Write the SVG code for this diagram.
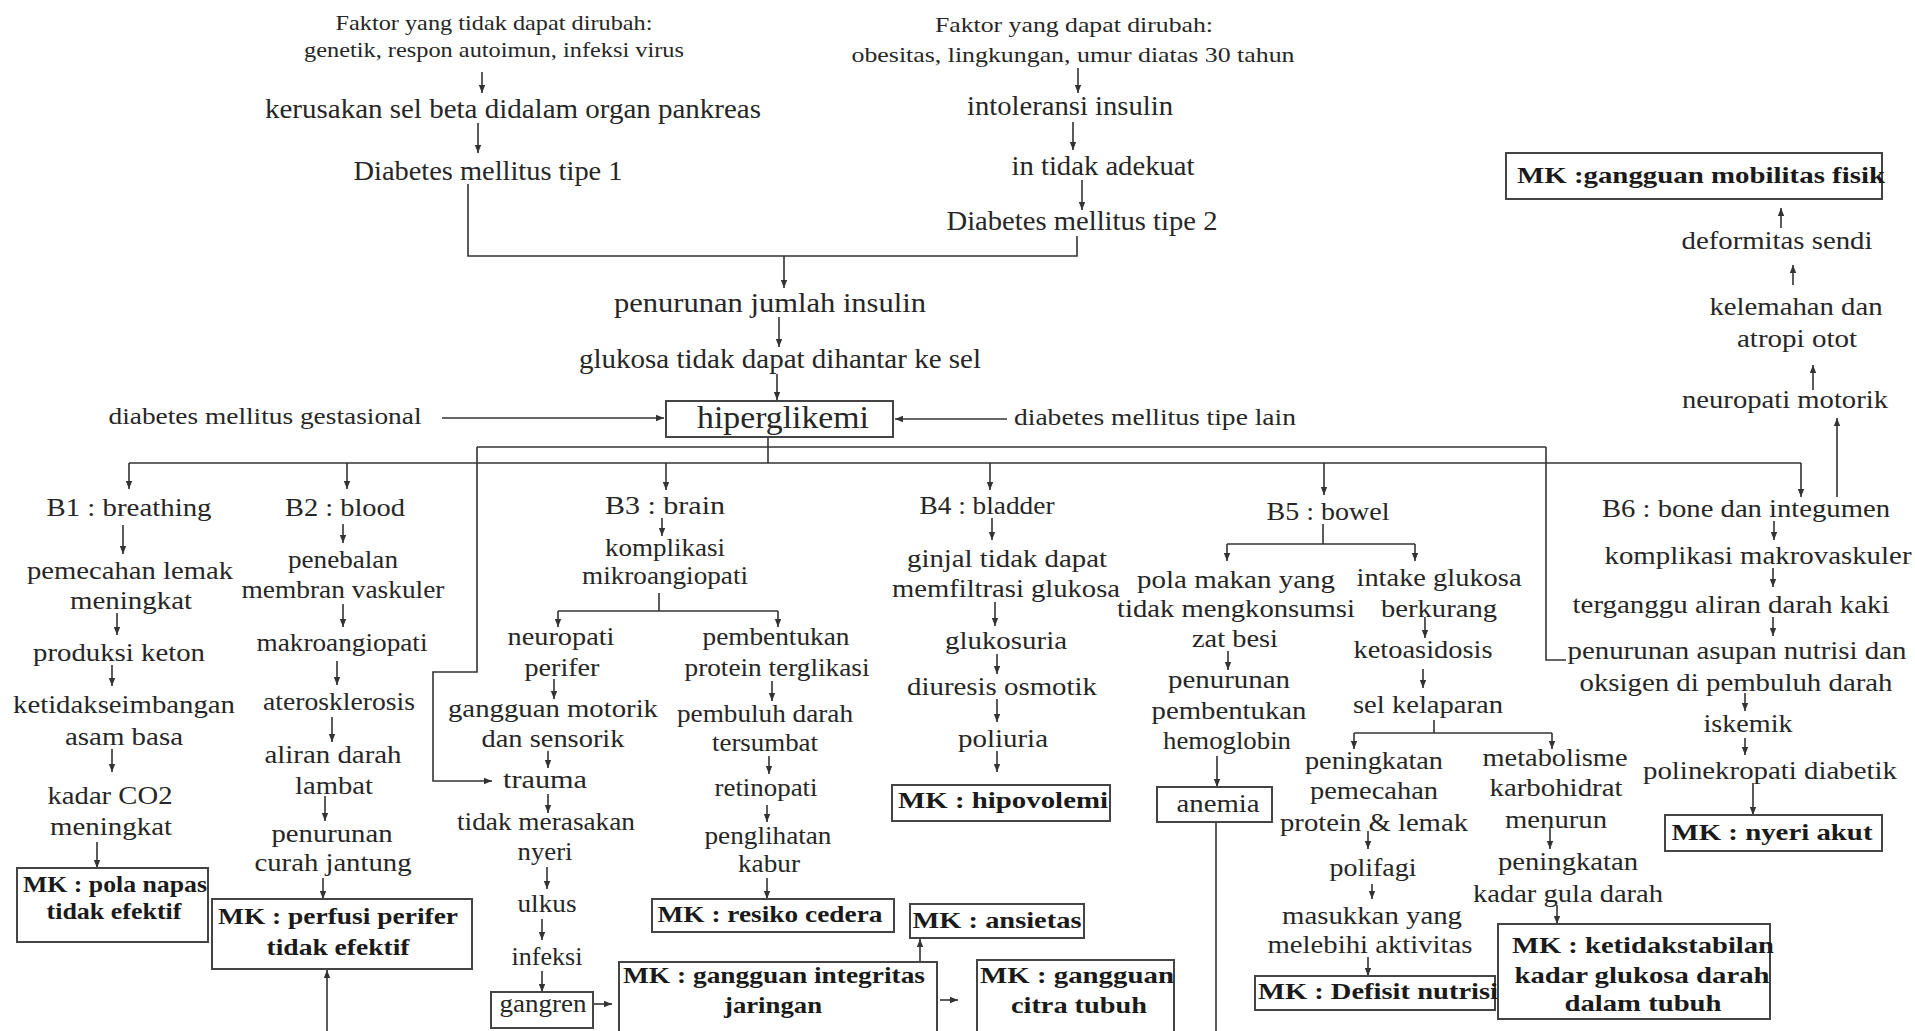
<svg xmlns="http://www.w3.org/2000/svg" width="1915" height="1031" viewBox="0 0 1915 1031">
<style>
text{font-family:"Liberation Serif","Times New Roman",serif;fill:#262626;text-anchor:middle}
.sm{font-size:22px}
.tp{font-size:27px}
.md{font-size:23px}
.hg{font-size:31px}
.n{font-size:25px}
.mk{font-size:23px;font-weight:bold;fill:#1a1a1a}
.box{fill:none;stroke:#444;stroke-width:2}
.ln{fill:none;stroke:#333;stroke-width:1.6}
.ar{fill:none;stroke:#333;stroke-width:1.6;marker-end:url(#ah)}
</style>
<defs>
<marker id="ah" viewBox="0 0 10 10" refX="10" refY="5" markerWidth="8" markerHeight="8" markerUnits="userSpaceOnUse" orient="auto">
<path d="M0,1 L10,5 L0,9 Z" fill="#333"/>
</marker>
</defs>
<rect width="1915" height="1031" fill="#fff"/>

<g id="connectors">
<line class="ar" x1="482" y1="72" x2="482" y2="93"/>
<line class="ar" x1="478" y1="123" x2="478" y2="153"/>
<line class="ar" x1="1078" y1="68" x2="1078" y2="93"/>
<line class="ar" x1="1073" y1="122" x2="1073" y2="150"/>
<line class="ar" x1="1082" y1="180" x2="1082" y2="210"/>
<polyline class="ln" points="468,184 468,256 1077,256 1077,236"/>
<line class="ar" x1="784" y1="256" x2="784" y2="288"/>
<line class="ar" x1="779" y1="317" x2="779" y2="347"/>
<line class="ar" x1="777" y1="374" x2="777" y2="400"/>
<line class="ar" x1="442" y1="418" x2="664" y2="418"/>
<line class="ar" x1="1007" y1="419" x2="895" y2="419"/>
<line class="ln" x1="768" y1="437" x2="768" y2="463"/>
<line class="ln" x1="477" y1="447" x2="1546" y2="447"/>
<polyline class="ar" points="477,447 477,672 433,672 433,781 492,781"/>
<polyline class="ln" points="1546,447 1546,660 1566,660"/>
<line class="ln" x1="129" y1="463" x2="1801" y2="463"/>
<line class="ar" x1="129" y1="463" x2="129" y2="489"/>
<line class="ar" x1="347" y1="463" x2="347" y2="489"/>
<line class="ar" x1="666" y1="463" x2="666" y2="490"/>
<line class="ar" x1="990" y1="463" x2="990" y2="490"/>
<line class="ar" x1="1324" y1="463" x2="1324" y2="495"/>
<line class="ar" x1="1801" y1="463" x2="1801" y2="497"/>
<line class="ar" x1="1837" y1="497" x2="1837" y2="418"/>
<line class="ar" x1="1813" y1="390" x2="1813" y2="365"/>
<line class="ar" x1="1793" y1="285" x2="1793" y2="265"/>
<line class="ar" x1="1781" y1="228" x2="1781" y2="208"/>
<!-- B1 -->
<line class="ar" x1="123" y1="525" x2="123" y2="554"/>
<line class="ar" x1="117" y1="613" x2="117" y2="635"/>
<line class="ar" x1="112" y1="665" x2="112" y2="686"/>
<line class="ar" x1="112" y1="749" x2="112" y2="772"/>
<line class="ar" x1="97" y1="842" x2="97" y2="868"/>
<!-- B2 -->
<line class="ar" x1="343" y1="524" x2="343" y2="543"/>
<line class="ar" x1="343" y1="604" x2="343" y2="627"/>
<line class="ar" x1="337" y1="661" x2="337" y2="685"/>
<line class="ar" x1="332" y1="717" x2="332" y2="742"/>
<line class="ar" x1="325" y1="796" x2="325" y2="821"/>
<line class="ar" x1="323" y1="878" x2="323" y2="899"/>
<line class="ar" x1="327" y1="1031" x2="327" y2="970"/>
<!-- B3 -->
<line class="ar" x1="662" y1="518" x2="662" y2="536"/>
<line class="ln" x1="659" y1="593" x2="659" y2="611"/>
<line class="ln" x1="558" y1="611" x2="778" y2="611"/>
<line class="ar" x1="558" y1="611" x2="558" y2="627"/>
<line class="ar" x1="778" y1="611" x2="778" y2="627"/>
<line class="ar" x1="554" y1="679" x2="554" y2="699"/>
<line class="ar" x1="548" y1="751" x2="548" y2="768"/>
<line class="ar" x1="548" y1="794" x2="548" y2="813"/>
<line class="ar" x1="547" y1="867" x2="547" y2="889"/>
<line class="ar" x1="542" y1="919" x2="542" y2="940"/>
<line class="ar" x1="542" y1="971" x2="542" y2="992"/>
<line class="ar" x1="593" y1="1004" x2="612" y2="1004"/>
<line class="ar" x1="772" y1="681" x2="772" y2="701"/>
<line class="ar" x1="769" y1="756" x2="769" y2="774"/>
<line class="ar" x1="767" y1="805" x2="767" y2="822"/>
<line class="ar" x1="767" y1="878" x2="767" y2="899"/>
<line class="ar" x1="920" y1="962" x2="920" y2="939"/>
<line class="ar" x1="940" y1="1000" x2="958" y2="1000"/>
<!-- B4 -->
<line class="ar" x1="992" y1="518" x2="992" y2="540"/>
<line class="ar" x1="995" y1="602" x2="995" y2="626"/>
<line class="ar" x1="997" y1="654" x2="997" y2="674"/>
<line class="ar" x1="997" y1="699" x2="997" y2="722"/>
<line class="ar" x1="997" y1="751" x2="997" y2="772"/>
<!-- B5 -->
<line class="ln" x1="1323" y1="524" x2="1323" y2="544"/>
<line class="ln" x1="1227" y1="544" x2="1415" y2="544"/>
<line class="ar" x1="1227" y1="544" x2="1227" y2="561"/>
<line class="ar" x1="1415" y1="544" x2="1415" y2="561"/>
<line class="ar" x1="1228" y1="651" x2="1228" y2="670"/>
<line class="ar" x1="1217" y1="756" x2="1217" y2="787"/>
<line class="ln" x1="1216" y1="822" x2="1216" y2="1031"/>
<line class="ar" x1="1425" y1="617" x2="1425" y2="638"/>
<line class="ar" x1="1423" y1="669" x2="1423" y2="688"/>
<line class="ln" x1="1434" y1="720" x2="1434" y2="733"/>
<line class="ln" x1="1354" y1="733" x2="1552" y2="733"/>
<line class="ar" x1="1354" y1="733" x2="1354" y2="749"/>
<line class="ar" x1="1552" y1="733" x2="1552" y2="749"/>
<line class="ar" x1="1368" y1="831" x2="1368" y2="849"/>
<line class="ar" x1="1372" y1="884" x2="1372" y2="899"/>
<line class="ar" x1="1368" y1="957" x2="1368" y2="976"/>
<line class="ar" x1="1550" y1="828" x2="1550" y2="849"/>
<line class="ar" x1="1557" y1="905" x2="1557" y2="924"/>
<!-- B6 -->
<line class="ar" x1="1774" y1="521" x2="1774" y2="540"/>
<line class="ar" x1="1773" y1="568" x2="1773" y2="587"/>
<line class="ar" x1="1773" y1="617" x2="1773" y2="636"/>
<line class="ar" x1="1745" y1="693" x2="1745" y2="711"/>
<line class="ar" x1="1745" y1="738" x2="1745" y2="755"/>
<line class="ar" x1="1753" y1="783" x2="1753" y2="815"/>
</g>

<g id="faktor-tetap">
<text class="sm" x="494" y="30" textLength="317" lengthAdjust="spacingAndGlyphs">Faktor yang tidak dapat dirubah:</text>
<text class="sm" x="494" y="57" textLength="380" lengthAdjust="spacingAndGlyphs">genetik, respon autoimun, infeksi virus</text>
</g>
<g id="kerusakan-sel-beta"><text class="tp" x="513" y="118" textLength="496" lengthAdjust="spacingAndGlyphs">kerusakan sel beta didalam organ pankreas</text></g>
<g id="dm-tipe-1"><text class="tp" x="488" y="180" textLength="269" lengthAdjust="spacingAndGlyphs">Diabetes mellitus tipe 1</text></g>
<g id="faktor-ubah">
<text class="sm" x="1074" y="32" textLength="278" lengthAdjust="spacingAndGlyphs">Faktor yang dapat dirubah:</text>
<text class="sm" x="1073" y="62" textLength="443" lengthAdjust="spacingAndGlyphs">obesitas, lingkungan, umur diatas 30 tahun</text>
</g>
<g id="intoleransi"><text class="tp" x="1070" y="115" textLength="206" lengthAdjust="spacingAndGlyphs">intoleransi insulin</text></g>
<g id="tidak-adekuat"><text class="tp" x="1103" y="175" textLength="183" lengthAdjust="spacingAndGlyphs">in tidak adekuat</text></g>
<g id="dm-tipe-2"><text class="tp" x="1082" y="230" textLength="271" lengthAdjust="spacingAndGlyphs">Diabetes mellitus tipe 2</text></g>
<g id="penurunan-insulin"><text class="tp" x="770" y="312" textLength="312" lengthAdjust="spacingAndGlyphs">penurunan jumlah insulin</text></g>
<g id="glukosa-tidak"><text class="tp" x="780" y="368" textLength="402" lengthAdjust="spacingAndGlyphs">glukosa tidak dapat dihantar ke sel</text></g>
<g id="hiperglikemi">
<rect class="box" x="666" y="401" width="227" height="36"/>
<text class="hg" x="783" y="428" textLength="172" lengthAdjust="spacingAndGlyphs">hiperglikemi</text>
</g>
<g id="dm-gestasional"><text class="md" x="265" y="424" textLength="313" lengthAdjust="spacingAndGlyphs">diabetes mellitus gestasional</text></g>
<g id="dm-tipe-lain"><text class="md" x="1155" y="425" textLength="282" lengthAdjust="spacingAndGlyphs">diabetes mellitus tipe lain</text></g>

<g id="B1">
<text class="n" x="129" y="516" textLength="165" lengthAdjust="spacingAndGlyphs">B1 : breathing</text>
<text class="n" x="130" y="579" textLength="206" lengthAdjust="spacingAndGlyphs">pemecahan lemak</text>
<text class="n" x="131" y="609" textLength="122" lengthAdjust="spacingAndGlyphs">meningkat</text>
<text class="n" x="119" y="661" textLength="172" lengthAdjust="spacingAndGlyphs">produksi keton</text>
<text class="n" x="124" y="713" textLength="222" lengthAdjust="spacingAndGlyphs">ketidakseimbangan</text>
<text class="n" x="124" y="745" textLength="118" lengthAdjust="spacingAndGlyphs">asam basa</text>
<text class="n" x="110" y="804" textLength="125" lengthAdjust="spacingAndGlyphs">kadar CO2</text>
<text class="n" x="111" y="835" textLength="122" lengthAdjust="spacingAndGlyphs">meningkat</text>
</g>
<g id="mk-pola-napas">
<rect class="box" x="17" y="868" width="191" height="74"/>
<text class="mk" x="115" y="892" textLength="184" lengthAdjust="spacingAndGlyphs">MK : pola napas</text>
<text class="mk" x="114" y="919" textLength="135" lengthAdjust="spacingAndGlyphs">tidak efektif</text>
</g>

<g id="B2">
<text class="n" x="345" y="516" textLength="120" lengthAdjust="spacingAndGlyphs">B2 : blood</text>
<text class="n" x="343" y="568" textLength="110" lengthAdjust="spacingAndGlyphs">penebalan</text>
<text class="n" x="343" y="598" textLength="203" lengthAdjust="spacingAndGlyphs">membran vaskuler</text>
<text class="n" x="342" y="651" textLength="171" lengthAdjust="spacingAndGlyphs">makroangiopati</text>
<text class="n" x="339" y="710" textLength="152" lengthAdjust="spacingAndGlyphs">aterosklerosis</text>
<text class="n" x="333" y="763" textLength="137" lengthAdjust="spacingAndGlyphs">aliran darah</text>
<text class="n" x="334" y="794" textLength="78" lengthAdjust="spacingAndGlyphs">lambat</text>
<text class="n" x="332" y="842" textLength="121" lengthAdjust="spacingAndGlyphs">penurunan</text>
<text class="n" x="333" y="871" textLength="157" lengthAdjust="spacingAndGlyphs">curah jantung</text>
</g>
<g id="mk-perfusi">
<rect class="box" x="212" y="899" width="260" height="70"/>
<text class="mk" x="338" y="924" textLength="240" lengthAdjust="spacingAndGlyphs">MK : perfusi perifer</text>
<text class="mk" x="338" y="955" textLength="143" lengthAdjust="spacingAndGlyphs">tidak efektif</text>
</g>

<g id="B3">
<text class="n" x="665" y="514" textLength="120" lengthAdjust="spacingAndGlyphs">B3 : brain</text>
<text class="n" x="665" y="556" textLength="120" lengthAdjust="spacingAndGlyphs">komplikasi</text>
<text class="n" x="665" y="584" textLength="166" lengthAdjust="spacingAndGlyphs">mikroangiopati</text>
</g>
<g id="neuropati-perifer">
<text class="n" x="561" y="645" textLength="107" lengthAdjust="spacingAndGlyphs">neuropati</text>
<text class="n" x="562" y="676" textLength="75" lengthAdjust="spacingAndGlyphs">perifer</text>
<text class="n" x="553" y="717" textLength="210" lengthAdjust="spacingAndGlyphs">gangguan motorik</text>
<text class="n" x="553" y="747" textLength="143" lengthAdjust="spacingAndGlyphs">dan sensorik</text>
<text class="n" x="545" y="788" textLength="84" lengthAdjust="spacingAndGlyphs">trauma</text>
<text class="n" x="546" y="830" textLength="178" lengthAdjust="spacingAndGlyphs">tidak merasakan</text>
<text class="n" x="545" y="860" textLength="55" lengthAdjust="spacingAndGlyphs">nyeri</text>
<text class="n" x="547" y="912" textLength="59" lengthAdjust="spacingAndGlyphs">ulkus</text>
<text class="n" x="547" y="965" textLength="71" lengthAdjust="spacingAndGlyphs">infeksi</text>
</g>
<g id="gangren">
<rect class="box" x="491" y="992" width="102" height="36"/>
<text class="n" x="543" y="1012" textLength="87" lengthAdjust="spacingAndGlyphs">gangren</text>
</g>
<g id="protein-terglikasi">
<text class="n" x="776" y="645" textLength="147" lengthAdjust="spacingAndGlyphs">pembentukan</text>
<text class="n" x="777" y="676" textLength="185" lengthAdjust="spacingAndGlyphs">protein terglikasi</text>
<text class="n" x="765" y="722" textLength="176" lengthAdjust="spacingAndGlyphs">pembuluh darah</text>
<text class="n" x="765" y="751" textLength="106" lengthAdjust="spacingAndGlyphs">tersumbat</text>
<text class="n" x="766" y="796" textLength="103" lengthAdjust="spacingAndGlyphs">retinopati</text>
<text class="n" x="768" y="844" textLength="127" lengthAdjust="spacingAndGlyphs">penglihatan</text>
<text class="n" x="769" y="872" textLength="62" lengthAdjust="spacingAndGlyphs">kabur</text>
</g>
<g id="mk-resiko-cedera">
<rect class="box" x="652" y="899" width="242" height="33"/>
<text class="mk" x="770" y="922" textLength="225" lengthAdjust="spacingAndGlyphs">MK : resiko cedera</text>
</g>
<g id="mk-integritas">
<rect class="box" x="619" y="962" width="318" height="90"/>
<text class="mk" x="774" y="983" textLength="302" lengthAdjust="spacingAndGlyphs">MK : gangguan integritas</text>
<text class="mk" x="773" y="1013" textLength="98" lengthAdjust="spacingAndGlyphs">jaringan</text>
</g>
<g id="mk-ansietas">
<rect class="box" x="910" y="904" width="174" height="34"/>
<text class="mk" x="997" y="928" textLength="169" lengthAdjust="spacingAndGlyphs">MK : ansietas</text>
</g>
<g id="mk-citra-tubuh">
<rect class="box" x="977" y="960" width="197" height="90"/>
<text class="mk" x="1077" y="983" textLength="194" lengthAdjust="spacingAndGlyphs">MK : gangguan</text>
<text class="mk" x="1079" y="1013" textLength="136" lengthAdjust="spacingAndGlyphs">citra tubuh</text>
</g>

<g id="B4">
<text class="n" x="987" y="514" textLength="135" lengthAdjust="spacingAndGlyphs">B4 : bladder</text>
<text class="n" x="1007" y="567" textLength="200" lengthAdjust="spacingAndGlyphs">ginjal tidak dapat</text>
<text class="n" x="1006" y="597" textLength="228" lengthAdjust="spacingAndGlyphs">memfiltrasi glukosa</text>
<text class="n" x="1006" y="649" textLength="122" lengthAdjust="spacingAndGlyphs">glukosuria</text>
<text class="n" x="1002" y="695" textLength="190" lengthAdjust="spacingAndGlyphs">diuresis osmotik</text>
<text class="n" x="1003" y="747" textLength="90" lengthAdjust="spacingAndGlyphs">poliuria</text>
</g>
<g id="mk-hipovolemi">
<rect class="box" x="892" y="785" width="218" height="36"/>
<text class="mk" x="1003" y="808" textLength="210" lengthAdjust="spacingAndGlyphs">MK : hipovolemi</text>
</g>

<g id="B5">
<text class="n" x="1328" y="520" textLength="123" lengthAdjust="spacingAndGlyphs">B5 : bowel</text>
</g>
<g id="pola-makan">
<text class="n" x="1236" y="588" textLength="198" lengthAdjust="spacingAndGlyphs">pola makan yang</text>
<text class="n" x="1236" y="617" textLength="238" lengthAdjust="spacingAndGlyphs">tidak mengkonsumsi</text>
<text class="n" x="1235" y="647" textLength="86" lengthAdjust="spacingAndGlyphs">zat besi</text>
<text class="n" x="1229" y="688" textLength="122" lengthAdjust="spacingAndGlyphs">penurunan</text>
<text class="n" x="1229" y="719" textLength="155" lengthAdjust="spacingAndGlyphs">pembentukan</text>
<text class="n" x="1227" y="749" textLength="128" lengthAdjust="spacingAndGlyphs">hemoglobin</text>
</g>
<g id="anemia">
<rect class="box" x="1157" y="787" width="115" height="35"/>
<text class="n" x="1218" y="812" textLength="83" lengthAdjust="spacingAndGlyphs">anemia</text>
</g>
<g id="intake-glukosa">
<text class="n" x="1439" y="586" textLength="165" lengthAdjust="spacingAndGlyphs">intake glukosa</text>
<text class="n" x="1439" y="617" textLength="116" lengthAdjust="spacingAndGlyphs">berkurang</text>
<text class="n" x="1423" y="658" textLength="139" lengthAdjust="spacingAndGlyphs">ketoasidosis</text>
<text class="n" x="1428" y="713" textLength="150" lengthAdjust="spacingAndGlyphs">sel kelaparan</text>
</g>
<g id="pemecahan-protein">
<text class="n" x="1374" y="769" textLength="138" lengthAdjust="spacingAndGlyphs">peningkatan</text>
<text class="n" x="1374" y="799" textLength="128" lengthAdjust="spacingAndGlyphs">pemecahan</text>
<text class="n" x="1374" y="831" textLength="188" lengthAdjust="spacingAndGlyphs">protein &amp; lemak</text>
<text class="n" x="1373" y="876" textLength="87" lengthAdjust="spacingAndGlyphs">polifagi</text>
<text class="n" x="1372" y="924" textLength="180" lengthAdjust="spacingAndGlyphs">masukkan yang</text>
<text class="n" x="1370" y="953" textLength="205" lengthAdjust="spacingAndGlyphs">melebihi aktivitas</text>
</g>
<g id="mk-defisit-nutrisi">
<rect class="box" x="1255" y="976" width="240" height="34"/>
<text class="mk" x="1378" y="999" textLength="240" lengthAdjust="spacingAndGlyphs">MK : Defisit nutrisi</text>
</g>
<g id="metabolisme">
<text class="n" x="1555" y="766" textLength="145" lengthAdjust="spacingAndGlyphs">metabolisme</text>
<text class="n" x="1556" y="796" textLength="133" lengthAdjust="spacingAndGlyphs">karbohidrat</text>
<text class="n" x="1556" y="828" textLength="102" lengthAdjust="spacingAndGlyphs">menurun</text>
<text class="n" x="1568" y="870" textLength="140" lengthAdjust="spacingAndGlyphs">peningkatan</text>
<text class="n" x="1568" y="902" textLength="190" lengthAdjust="spacingAndGlyphs">kadar gula darah</text>
</g>
<g id="mk-ketidakstabilan">
<rect class="box" x="1498" y="924" width="272" height="95"/>
<text class="mk" x="1643" y="953" textLength="262" lengthAdjust="spacingAndGlyphs">MK : ketidakstabilan</text>
<text class="mk" x="1642" y="983" textLength="255" lengthAdjust="spacingAndGlyphs">kadar glukosa darah</text>
<text class="mk" x="1643" y="1011" textLength="157" lengthAdjust="spacingAndGlyphs">dalam tubuh</text>
</g>

<g id="B6">
<text class="n" x="1746" y="517" textLength="288" lengthAdjust="spacingAndGlyphs">B6 : bone dan integumen</text>
<text class="n" x="1758" y="564" textLength="307" lengthAdjust="spacingAndGlyphs">komplikasi makrovaskuler</text>
<text class="n" x="1731" y="613" textLength="317" lengthAdjust="spacingAndGlyphs">terganggu aliran darah kaki</text>
<text class="n" x="1737" y="659" textLength="339" lengthAdjust="spacingAndGlyphs">penurunan asupan nutrisi dan</text>
<text class="n" x="1736" y="691" textLength="313" lengthAdjust="spacingAndGlyphs">oksigen di pembuluh darah</text>
<text class="n" x="1748" y="732" textLength="89" lengthAdjust="spacingAndGlyphs">iskemik</text>
<text class="n" x="1770" y="779" textLength="254" lengthAdjust="spacingAndGlyphs">polinekropati diabetik</text>
</g>
<g id="mk-nyeri-akut">
<rect class="box" x="1665" y="815" width="217" height="36"/>
<text class="mk" x="1772" y="840" textLength="201" lengthAdjust="spacingAndGlyphs">MK : nyeri akut</text>
</g>
<g id="neuropati-motorik">
<text class="n" x="1785" y="408" textLength="206" lengthAdjust="spacingAndGlyphs">neuropati motorik</text>
<text class="n" x="1796" y="315" textLength="173" lengthAdjust="spacingAndGlyphs">kelemahan dan</text>
<text class="n" x="1797" y="347" textLength="120" lengthAdjust="spacingAndGlyphs">atropi otot</text>
<text class="n" x="1777" y="249" textLength="191" lengthAdjust="spacingAndGlyphs">deformitas sendi</text>
</g>
<g id="mk-mobilitas">
<rect class="box" x="1506" y="153" width="376" height="46"/>
<text class="mk" x="1701" y="183" textLength="368" lengthAdjust="spacingAndGlyphs">MK :gangguan mobilitas fisik</text>
</g>
</svg>
